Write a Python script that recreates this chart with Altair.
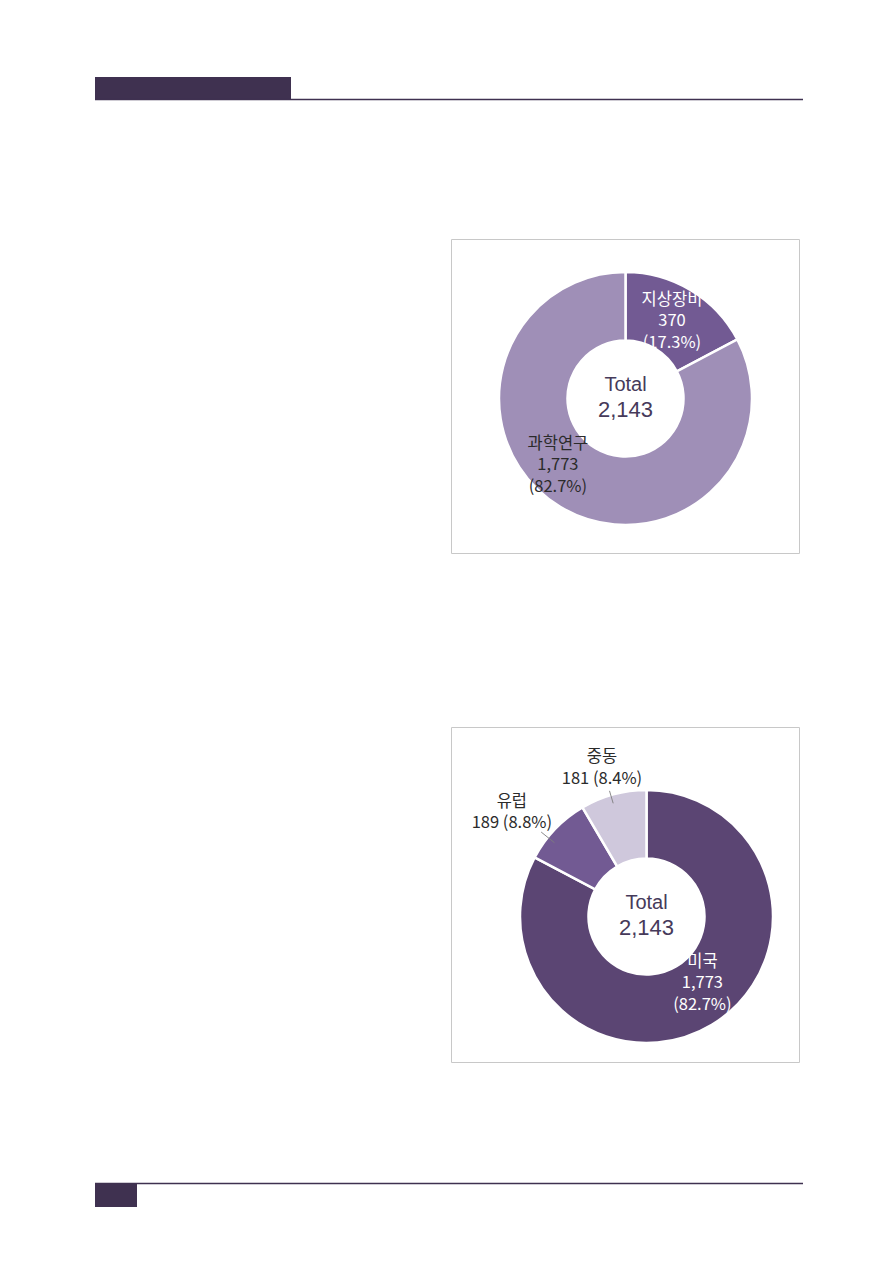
import math
import altair as alt
import pandas as pd

# ---------------- data ----------------
c1_categories = ["지상장비", "과학연구"]
c1_values = [370, 1773]
c1_percents = ["17.3%", "82.7%"]

c2_categories = ["미국", "유럽", "중동"]
c2_values = [1773, 189, 181]
c2_percents = ["82.7%", "8.8%", "8.4%"]

total_word = "Total"

# ---------------- styles / layout ----------------
c1_colors = ["#725a93", "#9f8fb7"]
c2_colors = ["#5b4573", "#725a93", "#cfc8dc"]
DARK = "#3f3150"
TEXT_DARK = "#2b2b2b"
TOTAL_COL = "#463a5a"
FONT = "Noto Sans CJK KR"
TOTAL_FONT = "Liberation Sans"
W, H = 877, 1247
R_IN, R_OUT = 58, 126.5
LH = 21.5
LABEL_SIZE = 16.5

# label layout: name -> (angle offset deg, radius, colour, multiline style)
c1_label_layout = {
    "지상장비": (0.0, 90, "white", "three"),
    "과학연구": (14.3, 95, TEXT_DARK, "three"),
}
c2_label_layout = {
    "미국": (-8.9, 87, "white", "three"),
    "유럽": (-6.1, 170, TEXT_DARK, "two"),
    "중동": (-1.5, 155, TEXT_DARK, "two"),
}
c2_leaders = {"유럽": (-5.0, 118, 135), "중동": (-1.2, 118, 131)}


def fmt(v):
    return f"{v:,}"


def make_df(cats, vals, pcts, cols, layout):
    rows = []
    for i, (c, v, p, col) in enumerate(zip(cats, vals, pcts, cols)):
        style = layout[c][3]
        if style == "three":
            lbl = f"{c}\n{fmt(v)}\n({p})"
        else:
            lbl = f"{c}\n{fmt(v)} ({p})"
        rows.append({"cat": c, "val": v, "idx": i, "col": col, "label": lbl})
    return pd.DataFrame(rows)


def donut(df, cx, cy, layout, leaders):
    total = int(df["val"].sum())
    layers = []
    arcs = alt.Chart(df).mark_arc(
        innerRadius=R_IN, outerRadius=R_OUT, stroke="white", strokeWidth=2.5
    ).encode(
        theta=alt.Theta("val:Q", stack=True),
        order=alt.Order("idx:Q"),
        color=alt.Color("col:N", scale=None),
        x=alt.value(cx),
        y=alt.value(cy),
    )
    layers.append(arcs)

    base = (
        alt.Chart(df)
        .transform_window(cum="sum(val)", sort=[alt.SortField("idx", order="ascending")], frame=[None, 0])
        .transform_joinaggregate(tot="sum(val)")
        .transform_calculate(mid="(datum.cum - datum.val/2) / datum.tot * 2 * PI")
    )
    for name, (off, r, colr, style) in layout.items():
        nlines = 3 if style == "three" else 2
        t = (
            base.transform_filter(alt.datum.cat == name)
            .transform_calculate(ang=f"datum.mid + {math.radians(off)}")
            .mark_text(
                radius=r, font=FONT, fontSize=LABEL_SIZE, lineHeight=LH, lineBreak="\n",
                color=colr, align="center", baseline="middle",
                dy=-(nlines - 1) * LH / 2,
            )
            .encode(
                theta=alt.Theta("ang:Q", scale=None),
                text="label:N",
                x=alt.value(cx),
                y=alt.value(cy),
            )
        )
        layers.append(t)
    for name, (off, r1, r2) in leaders.items():
        ln = (
            base.transform_filter(alt.datum.cat == name)
            .transform_calculate(ang=f"datum.mid + {math.radians(off)}")
            .transform_calculate(
                lx1=f"{cx} + {r1} * sin(datum.ang)",
                ly1=f"{cy} - {r1} * cos(datum.ang)",
                lx2=f"{cx} + {r2} * sin(datum.ang)",
                ly2=f"{cy} - {r2} * cos(datum.ang)",
            )
            .mark_rule(color="#7d7d7d", strokeWidth=0.9)
            .encode(
                x=alt.X("lx1:Q", scale=None, axis=None),
                y=alt.Y("ly1:Q", scale=None, axis=None),
                x2="lx2:Q",
                y2="ly2:Q",
            )
        )
        layers.append(ln)
    word = alt.Chart(pd.DataFrame({"t": [total_word]})).mark_text(
        font=TOTAL_FONT, fontSize=20, color=TOTAL_COL, align="center", baseline="middle",
    ).encode(text="t:N", x=alt.value(cx), y=alt.value(cy - 13.5))
    num = alt.Chart(pd.DataFrame({"t": [fmt(total)]})).mark_text(
        font=TOTAL_FONT, fontSize=22, color=TOTAL_COL, align="center", baseline="middle",
    ).encode(text="t:N", x=alt.value(cx), y=alt.value(cy + 11.5))
    layers += [word, num]
    return layers


one = pd.DataFrame({"k": [0]})


def rect(x1, x2, y1, y2, fill, stroke=None):
    kw = {"fill": fill}
    if stroke:
        kw.update(stroke=stroke, strokeWidth=1)
    return alt.Chart(one).mark_rect(**kw).encode(
        x=alt.value(x1), x2=alt.value(x2), y=alt.value(y1), y2=alt.value(y2)
    )


def rule(x1, x2, y, color, w):
    return alt.Chart(one).mark_rule(color=color, strokeWidth=w).encode(
        x=alt.value(x1), x2=alt.value(x2), y=alt.value(y)
    )


decor = [
    rect(87, 283, 69, 92, DARK),
    rule(87, 795, 91.5, DARK, 1.5),
    rule(87, 795, 1175.5, DARK, 1.5),
    rect(87, 129, 1175, 1199, DARK),
    rect(443.5, 791.5, 231.5, 545.5, "white", "#c8c8c8"),
    rect(443.5, 791.5, 719.5, 1054.5, "white", "#c8c8c8"),
]

df1 = make_df(c1_categories, c1_values, c1_percents, c1_colors, c1_label_layout)
df2 = make_df(c2_categories, c2_values, c2_percents, c2_colors, c2_label_layout)

layers = decor + donut(df1, 617.5, 390.5, c1_label_layout, {}) + donut(
    df2, 638.5, 908.5, c2_label_layout, c2_leaders
)

chart = (
    alt.layer(*layers)
    .resolve_scale(theta="independent")
    .properties(width=W, height=H, autosize=alt.AutoSizeParams(type="none"), padding=0)
    .configure_view(stroke=None)
)

chart.save("out.html", embed_options={"renderer": "svg", "actions": False})
